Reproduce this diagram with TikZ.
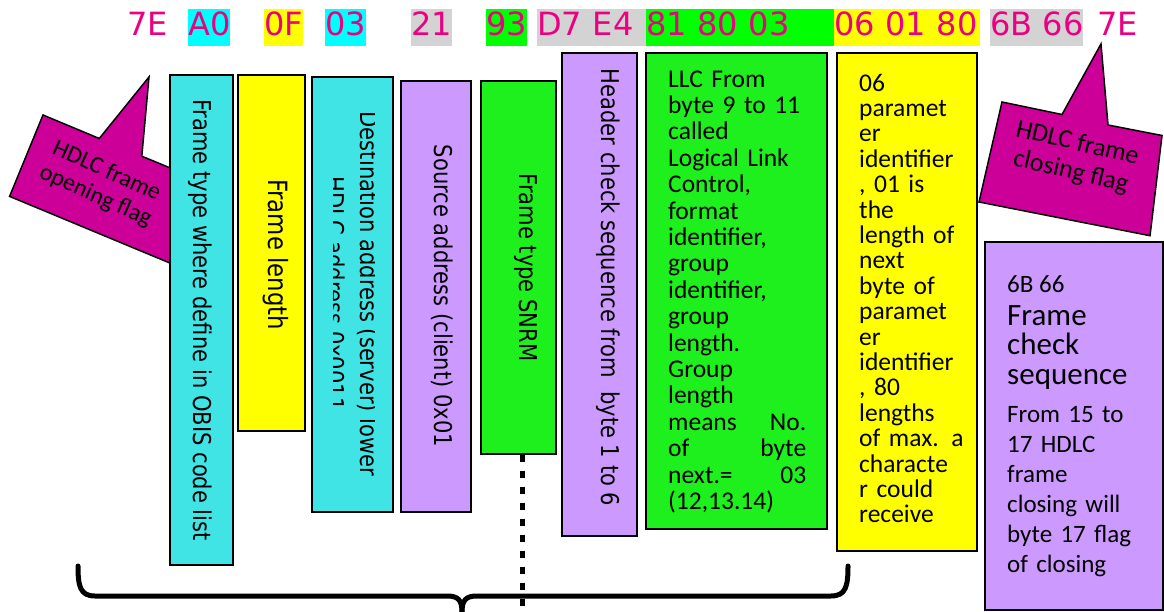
\documentclass[tikz,border=0pt]{standalone}
\usepackage{fontspec}
\setmainfont{Carlito}
\newfontfamily\dv{DejaVu Sans}
\definecolor{hexpink}{RGB}{235,0,130}
\definecolor{hcyan}{RGB}{0,255,255}
\definecolor{hyellow}{RGB}{255,255,0}
\definecolor{hgray}{RGB}{211,211,211}
\definecolor{hgreen}{RGB}{0,255,0}
\definecolor{bcyan}{RGB}{64,228,228}
\definecolor{byellow}{RGB}{255,255,0}
\definecolor{bpurple}{RGB}{204,153,255}
\definecolor{bgreen}{RGB}{30,240,30}
\definecolor{calloutc}{RGB}{204,0,153}
\newcommand{\narrowtxt}[1]{\scalebox{0.86}[1]{#1}}
\begin{document}
\begin{tikzpicture}[x=1pt,y=-1pt,
  hexbyte/.style={font=\dv\fontsize{32}{32}\selectfont, text=hexpink, inner xsep=0pt, inner ysep=0pt,
    text height=27pt, text depth=10pt, anchor=base west},
  fieldbox/.style={draw=black, line width=1.5pt, inner sep=0pt},
  vtext/.style={font=\dv\fontsize{24.5}{28}\selectfont, rotate=-90, anchor=base, inner sep=0pt},
  para/.style={inner sep=0pt, anchor=north west, align=left},
  calloutshape/.style={fill=calloutc, draw=black, line width=1.5pt, line join=miter},
  callouttext/.style={font=\fontsize{24}{27}\selectfont, align=center, inner sep=0pt, text=black},
  bracepath/.style={line width=5pt, line cap=round, line join=round},
  dotline/.style={line width=5pt, dash pattern=on 7pt off 9pt}
]
\useasboundingbox (0,0) rectangle (1164,612);

% top row of bytes
\node[hexbyte] (h1) at (127,36) {7E};
\node[hexbyte, fill=hcyan] (h2) at (188,36) {A0};
\node[hexbyte, fill=hyellow] (h3) at (264,36) {0F};
\node[hexbyte, fill=hcyan] (h4) at (325,36) {03};
\node[hexbyte, fill=hgray] (h5) at (411,36) {21};
\node[hexbyte, fill=hgreen] (h6) at (486,36) {93};
\node[hexbyte, fill=hgray, text width=109pt, align=left] (h7) at (537,36) {D7 E4};
\node[hexbyte, fill=hgreen, text width=188pt, align=left] (h8) at (646,36) {81 80 03};
\node[hexbyte, fill=hyellow, text width=146pt, align=left] (h9) at (834,36) {06 01 80};
\node[hexbyte, fill=hgray] (h10) at (990,36) {6B 66};
\node[hexbyte] (h11) at (1097,36) {7E};

% callouts (left one sits behind the first box)
\draw[calloutshape] (43,115) -- (99.3,138.5) -- (149,77) -- (141.8,156.2) -- (209,184) -- (175.6,265.4) -- (9.6,196.4) -- cycle;
\node[callouttext, rotate=-24] (openflag) at (101,184) {HDLC frame\\opening flag};
\draw[calloutshape] (1002,102) -- (1062,114.5) -- (1101,44) -- (1108,125) -- (1162,135.5) -- (1150,235.7) -- (979,202) -- cycle;
\node[callouttext, rotate=-13, font=\fontsize{26}{29}\selectfont] (closeflag) at (1074,158) {HDLC frame\\closing flag};

% field boxes
\node[fieldbox, fill=bcyan, minimum width=63pt, minimum height=490pt] (ftype) at (201.5,320) {};
\node[vtext] (ftypet) at (193,320) {\narrowtxt{Frame type where define in OBIS code list}};

\node[fieldbox, fill=byellow, minimum width=67pt, minimum height=356pt] (flen) at (271.5,253) {};
\node[vtext, font=\dv\fontsize{26.5}{30}\selectfont] (flent) at (268,254.5) {\narrowtxt{Frame length}};

\node[fieldbox, fill=bcyan, minimum width=81pt, minimum height=435pt] (dest) at (352.5,294.5) {};
\begin{scope}
  \clip (333,80) rectangle (374,510);
  \node[vtext] (destt1) at (360,294) {\narrowtxt{Destination address (server) lower}};
  \node[vtext] (destt2) at (326,293.5) {\narrowtxt{HDLC address 0x0011}};
\end{scope}

\node[fieldbox, fill=bpurple, minimum width=70pt, minimum height=431pt] (src) at (436,296.5) {};
\node[vtext] (srct) at (434,296) {\narrowtxt{Source address (client) 0x01}};

\node[fieldbox, fill=bgreen, minimum width=75pt, minimum height=373pt] (snrm) at (518.5,267.5) {};
\node[vtext] (snrmt) at (519,267.5) {\narrowtxt{Frame type SNRM}};

\node[fieldbox, fill=bpurple, minimum width=75pt, minimum height=483pt] (hcs) at (599.5,294.5) {};
\node[vtext] (hcst) at (601,287.5) {\narrowtxt{Header check sequence from\ \ byte 1 to 6}};

\node[fieldbox, fill=bgreen, minimum width=181pt, minimum height=476pt] (llc) at (736.5,291) {};
\node[para, text width=138pt, font=\fontsize{25.5}{26.4}\selectfont] (llct) at (668,66) {\rule{0pt}{21pt}LLC From\\
byte 9 to 11\\
called\\
Logical Link\\
Control,\\
format\\
identifier,\\
group\\
identifier,\\
group\\
length.\\
Group\\
length\\
means\hfill No.\\
of\hfill byte\\
next.=\hfill 03\\
(12,13.14)};

\node[fieldbox, fill=byellow, minimum width=140pt, minimum height=498pt] (par) at (907,302) {};
\node[para, text width=110pt, font=\fontsize{25.5}{25.4}\selectfont] (part) at (859,70) {\rule{0pt}{21pt}06\\
paramet\\
er\\
identifier\\
, 01 is\\
the\\
length of\\
next\\
byte of\\
paramet\\
er\\
identifier\\
, 80\\
lengths\\
of max. a\\
characte\\
r could\\
receive};

\node[fieldbox, fill=bpurple, minimum width=178pt, minimum height=368pt] (fcs) at (1074,426) {};
\node[para, anchor=base west, font=\fontsize{25}{30}\selectfont] (fcst1) at (1007,292) {6B 66};
\node[para, text width=150pt, font=\fontsize{31}{29.5}\selectfont] (fcst2) at (1007,301) {\rule{0pt}{24pt}Frame\\check\\sequence};
\node[para, text width=150pt, font=\fontsize{25}{30}\selectfont] (fcst3) at (1007,401) {\rule{0pt}{21pt}From 15 to\\
17 HDLC\\
frame\\
closing will\\
byte 17 flag\\
of closing};

% brace and dotted marker
\coordinate (braceL) at (78,566);
\coordinate (braceR) at (848,566);
\coordinate (braceTip) at (462,612);
\draw[bracepath] (braceL) .. controls (78,586) and (80,596) .. (95,596) -- (447,596)
  .. controls (458,596) and (462,600) .. (braceTip);
\draw[bracepath] (braceTip) .. controls (462,600) and (466,596) .. (477,596) -- (831,596)
  .. controls (846,596) and (848,586) .. (braceR);
\coordinate (dotend) at (522,612);
\draw[dotline] ([xshift=3.5pt]snrm.south) -- (dotend);
\end{tikzpicture}
\end{document}
